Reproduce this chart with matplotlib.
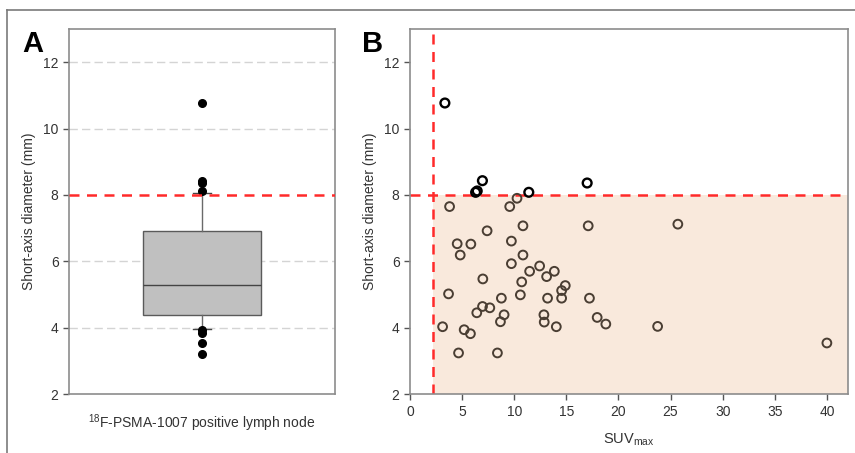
import numpy as np
import matplotlib.pyplot as plt
from matplotlib.lines import Line2D

# panel B: SUVmax vs short-axis diameter
suv_above = [3.35, 6.3, 6.45, 6.95, 11.4, 17.0]
diam_above = [10.77, 8.08, 8.12, 8.43, 8.08, 8.36]

suv_below = [3.8, 9.57, 10.27, 10.84, 17.1, 7.4, 4.53, 5.84, 9.73, 4.82,
             10.84, 9.73, 12.44, 11.48, 13.85, 13.11, 6.99, 10.72, 14.9, 14.55,
             3.7, 10.59, 8.77, 13.2, 14.55, 17.22, 6.96, 7.66, 6.41, 9.03,
             12.85, 17.96, 8.68, 12.88, 18.79, 3.13, 14.04, 5.2, 5.8, 4.66,
             8.39, 25.7, 23.76, 40.0]
diam_below = [7.65, 7.65, 7.9, 7.07, 7.07, 6.92, 6.53, 6.52, 6.61, 6.19,
              6.19, 5.93, 5.86, 5.70, 5.70, 5.54, 5.47, 5.38, 5.27, 5.12,
              5.02, 4.99, 4.89, 4.89, 4.89, 4.89, 4.64, 4.60, 4.45, 4.39,
              4.39, 4.31, 4.18, 4.17, 4.11, 4.03, 4.03, 3.94, 3.82, 3.24,
              3.24, 7.12, 4.04, 3.54]

# panel A: box statistics (10th/90th percentile whiskers)
box_q1, box_med, box_q3 = 4.37, 5.3, 6.9
whisker_lo, whisker_hi = 3.96, 8.06
outliers = [10.77, 8.42, 8.36, 8.11, 3.92, 3.85, 3.53, 3.22]

size_cut = 8.0
suv_cut = 2.2

red = '#ff2a2a'
txt = '#333333'
spine = '#8c8c8c'

plt.rcParams['font.family'] = 'Liberation Sans'
fig = plt.figure(figsize=(8.55, 4.53), dpi=100)

# outer frame lines
fig.add_artist(Line2D([7 / 855, 1], [1 - 10 / 453] * 2, color='#7a7a7a', lw=1.2))
fig.add_artist(Line2D([7 / 855] * 2, [0, 1 - 10 / 453], color='#7a7a7a', lw=1.2))

axA = fig.add_axes([0.0807, 0.130, 0.311, 0.806])
axB = fig.add_axes([0.4795, 0.130, 0.512, 0.806])

# ---- panel A
for g in [4, 6, 10, 12]:
    axA.axhline(g, color='#d4d4d4', lw=1, ls=(0, (6, 3)), zorder=0)
stats = [dict(med=box_med, q1=box_q1, q3=box_q3, whislo=whisker_lo,
              whishi=whisker_hi, fliers=outliers)]
axA.bxp(stats, positions=[1], widths=0.89, patch_artist=True,
        boxprops=dict(facecolor='#c0c0c0', edgecolor='#5a5a5a', lw=1),
        medianprops=dict(color='#444444', lw=1),
        whiskerprops=dict(color='#6a6a6a', lw=1),
        capprops=dict(color='#444444', lw=1), capwidths=0.13,
        flierprops=dict(marker='o', markerfacecolor='black', markeredgecolor='black',
                        markersize=5.5, ls='none'))
axA.axhline(size_cut, color=red, lw=1.8, ls=(0, (4, 3)), zorder=3)
axA.set_xlim(0, 2)
axA.set_ylim(2, 13)
axA.set_yticks([2, 4, 6, 8, 10, 12])
axA.set_xticks([])
axA.set_ylabel('Short-axis diameter (mm)', fontsize=10, color=txt, labelpad=5)
axA.set_xlabel(r'$^{\mathregular{18}}$F-PSMA-1007 positive lymph node',
               fontsize=10, color=txt, labelpad=13)

# ---- panel B
axB.fill_between([suv_cut, 42], 2, size_cut, color='#f9e9dc', lw=0, zorder=0)
axB.axhline(size_cut, color=red, lw=1.8, ls=(0, (4, 3)), zorder=1)
axB.axvline(suv_cut, color=red, lw=1.8, ls=(0, (4, 3)), zorder=1)
axB.scatter(suv_below, diam_below, s=40, facecolors='none', edgecolors='#4a3e33',
            linewidths=1.4, zorder=3)
axB.scatter(suv_above, diam_above, s=40, facecolors='none', edgecolors='black',
            linewidths=1.7, zorder=3)
axB.set_xlim(0, 42)
axB.set_ylim(2, 13)
axB.set_xticks([0, 5, 10, 15, 20, 25, 30, 35, 40])
axB.set_yticks([2, 4, 6, 8, 10, 12])
axB.set_ylabel('Short-axis diameter (mm)', fontsize=10, color=txt, labelpad=5)
axB.set_xlabel(r'SUV$_{\mathregular{max}}$', fontsize=10.5, color=txt, labelpad=9)

for ax in (axA, axB):
    for s in ax.spines.values():
        s.set_color(spine)
        s.set_linewidth(1.2)
    ax.tick_params(colors='#555555', labelcolor=txt, labelsize=10, length=4, width=1)

fig.text(22 / 855, 1 - 52 / 453, 'A', fontsize=21, fontweight='bold', color='black')
fig.text(362 / 855, 1 - 52 / 453, 'B', fontsize=21, fontweight='bold', color='black')

fig.savefig('out.png', dpi=100)
